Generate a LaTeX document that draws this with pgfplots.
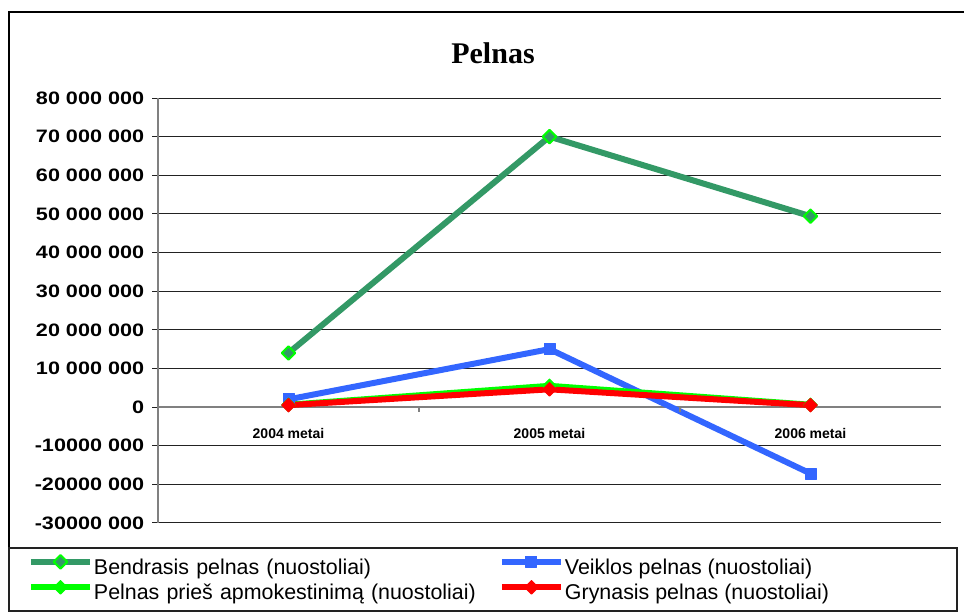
\documentclass[border=0pt]{standalone}
\usepackage{fontspec}
\setmainfont{Liberation Sans}
\newfontfamily\titlefont{Liberation Serif}
\newfontfamily\tickfont[FakeStretch=1.2]{Liberation Sans}
\usepackage{pgfplots}
\pgfplotsset{compat=1.18}
\definecolor{cgreen}{HTML}{339966}
\definecolor{cblue}{HTML}{3366FF}
\definecolor{clime}{HTML}{00FF00}
\definecolor{cred}{HTML}{FF0000}
\definecolor{cgrid}{HTML}{222222}
\definecolor{caxis}{HTML}{808080}
\begin{document}
\begin{tikzpicture}
\path[use as bounding box] (0,0) rectangle (482pt,307pt);
\draw[black, line width=1pt] (4.5pt,1.5pt) -- (4.5pt,300.75pt) -- (482pt,300.75pt);
\draw[cgrid, line width=0.75pt] (4.5pt,33pt) rectangle (478.5pt,1.5pt);
\node[font=\titlefont\bfseries\fontsize{15}{18}\selectfont, anchor=base, inner sep=0pt] at (246.5pt,275pt) {Pelnas};
\begin{axis}[
  at={(79pt,45.5pt)}, anchor=south west,
  scale only axis, width=391.5pt, height=212.5pt,
  xmin=-0.5, xmax=2.5, ymin=-30000000, ymax=80000000,
  axis x line=middle, axis y line=left,
  axis line style={-, draw=caxis, line width=0.6pt},
  hide obscured x ticks=false, hide obscured y ticks=false,
  scaled y ticks=false,
  ytick={-30000000,-20000000,-10000000,0,10000000,20000000,30000000,40000000,50000000,60000000,70000000,80000000},
  yticklabels={-30000 000,-20000 000,-10000 000,0,10 000 000,20 000 000,30 000 000,40 000 000,50 000 000,60 000 000,70 000 000,80 000 000},
  ymajorgrids, grid style={cgrid, line width=0.5pt},
  ytick style={draw=cgrid, line width=0.5pt},
  tick align=outside, major tick length=2.75pt,
  yticklabel style={font=\tickfont\bfseries\fontsize{9}{10}\selectfont, anchor=east, inner sep=0pt, xshift=-4pt},
  xtick={0,1,2}, xticklabels={2004 metai,2005 metai,2006 metai},
  xtick style={draw=none},
  xticklabel style={font=\bfseries\fontsize{7}{8}\selectfont, anchor=base, inner sep=0pt, yshift=-13pt},
  clip=false,
  legend columns=2,
  legend cell align=left,
  legend style={at={(axis description cs:-0.16603,-0.07535)}, anchor=north west,
    draw=none, fill=none, inner sep=0pt, outer sep=0pt, row sep=0pt,
    font=\fontsize{10.7}{12}\selectfont,
    nodes={inner sep=0pt, text height=8pt, text depth=3pt},
    /tikz/every odd column/.append style={column sep=0.5pt},
    /tikz/column 2/.append style={text width=202.5pt, align=left}},
  legend image code/.code={\draw[mark repeat=2,mark phase=2,#1] plot coordinates {(0pt,3.85pt)(14.75pt,3.85pt)(29.5pt,3.85pt)};},
]
\addplot[cgreen, line width=3pt, line join=round, mark=square*, mark size=2.4pt,
  mark options={rotate=45, fill=cgreen, draw=clime, line width=1pt}]
  coordinates {(0,14000000)(1,70000000)(2,49400000)};
\addlegendentry{Bendrasis pelnas (nuostoliai)}
\addplot[cblue, line width=3pt, line join=round, mark=square*, mark size=2.75pt,
  mark options={fill=cblue, draw=cblue, line width=0.5pt}]
  coordinates {(0,2000000)(1,15000000)(2,-17200000)};
\addlegendentry{Veiklos pelnas (nuostoliai)}
\addplot[clime, line width=3pt, line join=round, mark=square*, mark size=2.4pt,
  mark options={rotate=45, fill=clime, draw=clime, line width=0.5pt}]
  coordinates {(0,600000)(1,5500000)(2,600000)};
\addlegendentry{Pelnas prieš apmokestinimą (nuostoliai)}
\addplot[cred, line width=3pt, line join=round, mark=square*, mark size=2.4pt,
  mark options={rotate=45, fill=cred, draw=cred, line width=0.5pt}]
  coordinates {(0,500000)(1,4600000)(2,500000)};
\addlegendentry{Grynasis pelnas (nuostoliai)}
\draw[caxis, line width=0.6pt] (axis cs:0.5,0) -- ([yshift=-2.5pt]axis cs:0.5,0);
\draw[caxis, line width=0.6pt] (axis cs:1.5,0) -- ([yshift=-2.5pt]axis cs:1.5,0);
\end{axis}
\end{tikzpicture}
\end{document}
